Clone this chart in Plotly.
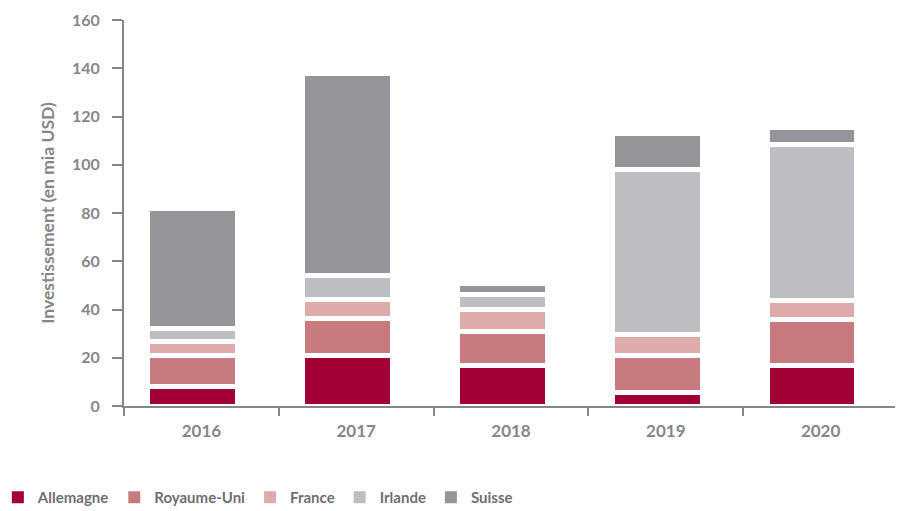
import plotly.graph_objects as go

years = ["2016", "2017", "2018", "2019", "2020"]
allemagne = [8.2, 20.9, 16.6, 5.8, 16.6]
royaume_uni = [12.8, 15.2, 14.1, 15.1, 19.3]
france = [5.7, 8.0, 9.1, 8.7, 8.0]
irlande = [5.5, 10.2, 6.6, 68.6, 64.5]
suisse = [49.7, 83.6, 4.4, 14.8, 7.0]

series = [
    ("Allemagne", allemagne, "#A00034"),
    ("Royaume-Uni", royaume_uni, "#C87B7F"),
    ("France", france, "#DEAAAA"),
    ("Irlande", irlande, "#BDBEC1"),
    ("Suisse", suisse, "#949599"),
]

FONT = "Lato"
GREY = "#85868A"

fig = go.Figure()
for name, vals, col in series:
    fig.add_trace(go.Bar(
        x=years, y=vals, name=name, showlegend=False,
        width=0.58, offset=-0.345,
        marker=dict(color=col, line=dict(color="white", width=5)),
    ))
# legend entries (solid squares, without the white separators)
for name, vals, col in series:
    fig.add_trace(go.Bar(
        x=[years[0]], y=[None], name=name, showlegend=True,
        marker=dict(color=col, line=dict(width=0)),
    ))

fig.update_layout(
    barmode="stack",
    width=903, height=511,
    margin=dict(l=116, r=13, t=12, b=113, autoexpand=False),
    plot_bgcolor="white", paper_bgcolor="white",
    font=dict(family=FONT, color=GREY, size=16),
    showlegend=True,
    legend=dict(
        orientation="h", xref="paper", yref="paper",
        x=-0.163, y=-0.194, xanchor="left", yanchor="top",
        font=dict(family=FONT, size=15, color="#6E6F73", weight="bold"),
        itemwidth=30, traceorder="normal",
    ),
)
fig.update_xaxes(
    showline=True, linecolor=GREY, linewidth=2, automargin=False,
    ticks="outside", ticklen=8, tickwidth=2, tickcolor=GREY,
    tickson="boundaries", ticklabelstandoff=9,
    tickfont=dict(family=FONT, size=17, color=GREY, weight="bold"),
    showgrid=False,
)
fig.update_yaxes(
    range=[0, 160], dtick=20, automargin=False,
    showline=True, linecolor=GREY, linewidth=2,
    ticks="outside", ticklen=10, tickwidth=2, tickcolor=GREY,
    ticklabelstandoff=9,
    tickfont=dict(family=FONT, size=16, color=GREY, weight="bold"),
    showgrid=False, zeroline=False,
    title=dict(text="Investissement (en mia USD)", standoff=13,
               font=dict(family=FONT, size=17.5, color=GREY, weight="bold")),
)

fig.write_html("out.html")
